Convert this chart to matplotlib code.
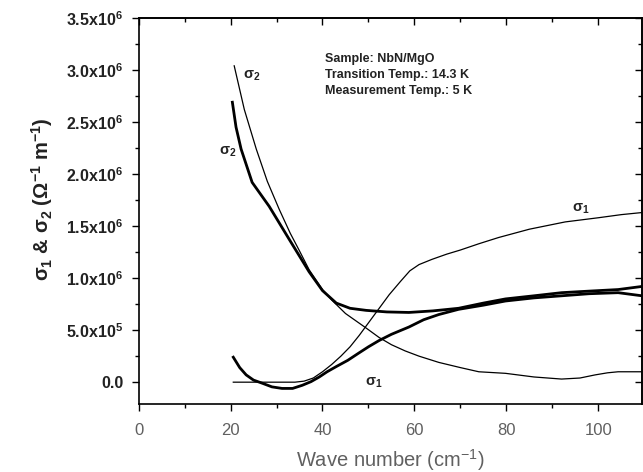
import numpy as np
import matplotlib
matplotlib.use('Agg')
import matplotlib.pyplot as plt
from matplotlib.ticker import MultipleLocator

plt.rcParams['font.family'] = ['Liberation Sans', 'DejaVu Sans']
plt.rcParams['mathtext.fontset'] = 'custom'
plt.rcParams['mathtext.rm'] = 'Liberation Sans'
plt.rcParams['mathtext.bf'] = 'Liberation Sans:bold'

# thin sigma_2 (upper, thin line)
s2_thin_x = [20.8, 23.0, 25.6, 28.0, 30.6, 33.0, 34.9, 37.1, 40.0, 42.0, 45.0, 49.5, 52.3, 55.0, 58.0,
             61.0, 65.3, 70.0, 74.0, 79.8, 86.0, 92.0, 96.0, 99.3, 102.0, 104.3, 109.5]
s2_thin_y = [3.04e6, 2.62e6, 2.24e6, 1.93e6, 1.66e6, 1.43e6, 1.27e6, 1.08e6, 0.89e6, 0.79e6, 0.66e6, 0.52e6,
             0.43e6, 0.36e6, 0.30e6, 0.25e6, 0.19e6, 0.14e6, 0.10e6, 0.085e6, 0.05e6, 0.03e6, 0.04e6,
             0.07e6, 0.09e6, 0.10e6, 0.10e6]

# thick sigma_2
s2_thick_x = [20.4, 21.2, 22.3, 24.7, 28.4, 32.8, 37.1, 40.0, 43.0, 46.0, 49.5, 54.0, 58.8, 64.0,
              69.6, 75.0, 79.8, 86.0, 92.0, 98.0, 104.3, 109.5]
s2_thick_y = [2.69e6, 2.45e6, 2.24e6, 1.92e6, 1.69e6, 1.37e6, 1.06e6, 0.88e6, 0.76e6, 0.71e6, 0.69e6,
              0.675e6, 0.67e6, 0.685e6, 0.71e6, 0.76e6, 0.80e6, 0.83e6, 0.86e6, 0.875e6, 0.89e6, 0.92e6]

# thick sigma_1
s1_thick_x = [20.6, 22.0, 23.4, 25.0, 26.9, 29.0, 31.2, 33.5, 35.6, 37.5, 39.3, 41.0, 43.0, 45.5, 47.9,
              50.0, 52.3, 55.0, 58.8, 62.0, 65.3, 69.6, 75.0, 79.8, 86.0, 92.0, 98.0, 104.3, 109.5]
s1_thick_y = [0.24e6, 0.14e6, 0.07e6, 0.02e6, -0.01e6, -0.045e6, -0.06e6, -0.06e6, -0.03e6, 0.005e6,
              0.05e6, 0.10e6, 0.15e6, 0.21e6, 0.28e6, 0.34e6, 0.40e6, 0.46e6, 0.53e6, 0.60e6, 0.65e6,
              0.70e6, 0.74e6, 0.78e6, 0.81e6, 0.83e6, 0.85e6, 0.86e6, 0.83e6]

# thin sigma_1
s1_thin_x = [20.6, 25.0, 30.0, 34.0, 36.0, 38.0, 40.0, 42.0, 44.0, 46.0, 48.0, 50.0, 52.0, 54.5, 57.0,
             59.0, 61.0, 63.8, 67.0, 70.0, 74.0, 78.3, 85.0, 92.8, 100.0, 105.0, 109.5]
s1_thin_y = [0.0, 0.0, 0.0, 0.0, 0.01e6, 0.04e6, 0.10e6, 0.17e6, 0.25e6, 0.34e6, 0.45e6, 0.57e6, 0.69e6,
             0.84e6, 0.97e6, 1.07e6, 1.13e6, 1.18e6, 1.23e6, 1.27e6, 1.33e6, 1.39e6, 1.47e6, 1.54e6,
             1.58e6, 1.61e6, 1.63e6]

ytick_vals = [0.0, 0.5e6, 1.0e6, 1.5e6, 2.0e6, 2.5e6, 3.0e6, 3.5e6]
ytick_labels = ['0.0', '5.0x10$^\\mathbf{5}$', '1.0x10$^\\mathbf{6}$', '1.5x10$^\\mathbf{6}$',
                '2.0x10$^\\mathbf{6}$', '2.5x10$^\\mathbf{6}$', '3.0x10$^\\mathbf{6}$', '3.5x10$^\\mathbf{6}$']
xtick_vals = [0, 20, 40, 60, 80, 100]

info_lines = ['Sample: NbN/MgO', 'Transition Temp.: 14.3 K', 'Measurement Temp.: 5 K']

fig = plt.figure(figsize=(6.43, 4.72), dpi=100)
ax = fig.add_axes([0.2155, 0.144, 0.783, 0.818])

ax.plot(s2_thin_x, s2_thin_y, color='black', lw=0.9)
ax.plot(s1_thin_x, s1_thin_y, color='black', lw=0.9)
ax.plot(s2_thick_x, s2_thick_y, color='black', lw=2.0)
ax.plot(s1_thick_x, s1_thick_y, color='black', lw=2.0)

ax.set_xlim(0, 109.5)
ax.set_ylim(-0.21e6, 3.5e6)

ax.set_yticks(ytick_vals)
ax.set_yticklabels(ytick_labels, fontsize=11.5, fontweight='bold', color='#222222')
ax.yaxis.set_minor_locator(MultipleLocator(0.25e6))
ax.set_xticks(xtick_vals)
ax.set_xticklabels([str(v) for v in xtick_vals], fontsize=12, color='#606060')
ax.xaxis.set_minor_locator(MultipleLocator(10))

ax.tick_params(axis='both', which='both', direction='out', width=1.0)
ax.tick_params(axis='both', which='major', length=5)
ax.tick_params(axis='both', which='minor', length=3)
ax.tick_params(axis='x', pad=9)
ax.tick_params(axis='y', pad=6)

# inward ticks on top and right
axt = ax.secondary_xaxis('top')
axt.set_xticks(xtick_vals)
axt.xaxis.set_minor_locator(MultipleLocator(10))
axt.tick_params(direction='in', labeltop=False, length=5, width=1.0)
axt.tick_params(which='minor', direction='in', length=3, width=1.0)
axr = ax.secondary_yaxis('right')
axr.set_yticks(ytick_vals)
axr.yaxis.set_minor_locator(MultipleLocator(0.25e6))
axr.tick_params(direction='in', labelright=False, length=5, width=1.0)
axr.tick_params(which='minor', direction='in', length=3, width=1.0)

for sp in ax.spines.values():
    sp.set_linewidth(1.2)
axt.spines['top'].set_linewidth(1.2)
axr.spines['right'].set_linewidth(1.2)

ax.set_xlabel('Wave number (cm$^{-1}$)', fontsize=14.5, color='#606060', labelpad=6)
ax.set_ylabel('σ$_\\mathbf{1}$ & σ$_\\mathbf{2}$ (Ω$^\\mathbf{-1}$ m$^\\mathbf{-1}$)',
              fontsize=14.5, fontweight='bold', color='#222222')
ax.yaxis.set_label_coords(-0.165, 0.53)

ax.text(22.8, 2.92e6, 'σ$_\\mathbf{2}$', fontsize=10.5, fontweight='bold', color='#222222')
ax.text(17.6, 2.19e6, 'σ$_\\mathbf{2}$', fontsize=10.5, fontweight='bold', color='#222222')
ax.text(49.3, -0.03e6, 'σ$_\\mathbf{1}$', fontsize=10.5, fontweight='bold', color='#222222')
ax.text(94.3, 1.64e6, 'σ$_\\mathbf{1}$', fontsize=10.5, fontweight='bold', color='#222222')

ax.text(40.6, 3.16e6, '\n'.join(info_lines), fontsize=9, fontweight='bold', color='#222222',
        va='top', ha='left', linespacing=1.4)

fig.savefig('out.png', dpi=100)
